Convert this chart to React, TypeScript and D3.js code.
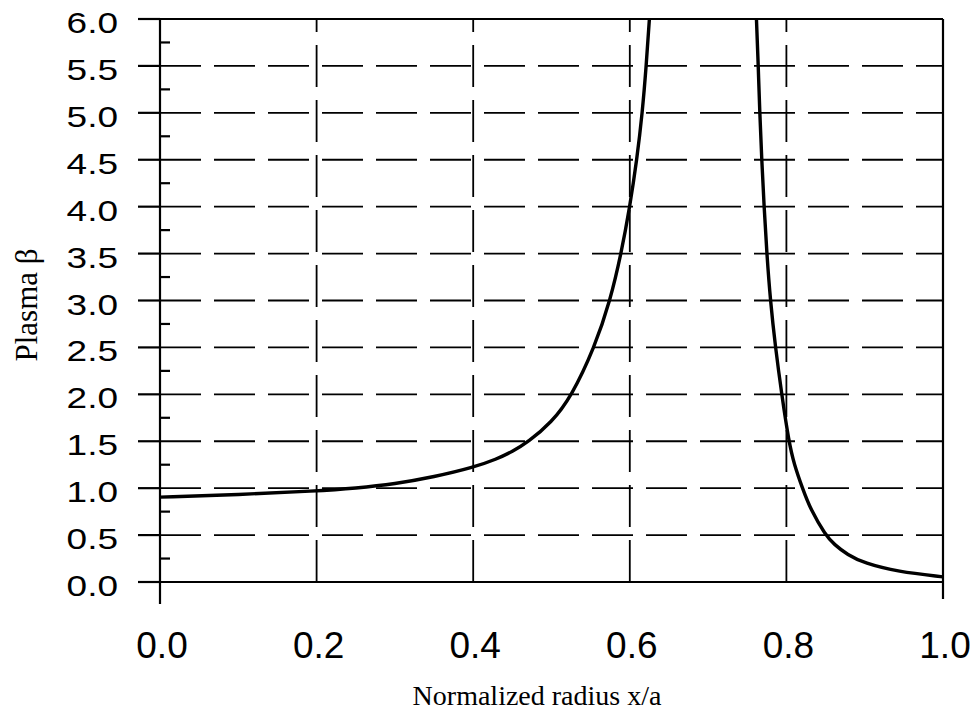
import React, { useEffect, useRef } from "react";
import * as d3 from "d3";

// tick values
const yMajor = [0, 0.5, 1, 1.5, 2, 2.5, 3, 3.5, 4, 4.5, 5, 5.5, 6];
const yMinor = [0.25, 0.75, 1.25, 1.75, 2.25, 2.75, 3.25, 3.75, 4.25, 4.75, 5.25, 5.75];
const xMajor = [0, 0.2, 0.4, 0.6, 0.8, 1];

// inner branch (rises off the top near x/a = 0.62)
const innerX = [0, 0.1, 0.2, 0.25, 0.3, 0.35, 0.4, 0.43, 0.45, 0.47, 0.5, 0.525, 0.555, 0.575, 0.589, 0.6, 0.609, 0.616, 0.621, 0.625, 0.63];
const innerBeta = [0.905, 0.93, 0.97, 1.0, 1.045, 1.12, 1.22, 1.31, 1.39, 1.49, 1.7, 1.97, 2.5, 3.0, 3.5, 4.0, 4.5, 5.0, 5.5, 6.0, 6.6];

// outer branch (comes back down near x/a = 0.76)
const outerX = [0.758, 0.762, 0.764, 0.766, 0.7685, 0.7715, 0.775, 0.7795, 0.786, 0.794, 0.803, 0.81, 0.8205, 0.831, 0.85, 0.861, 0.878, 0.8995, 0.942, 1.0];
const outerBeta = [6.6, 6.0, 5.5, 5.0, 4.5, 4.0, 3.5, 3.0, 2.5, 2.0, 1.5, 1.25, 1.0, 0.77, 0.5, 0.4, 0.29, 0.2, 0.11, 0.055];

const W = 979, H = 724;
const plot = { left: 160, right: 943, top: 19, bottom: 582 };

function BetaChart() {
    const ref = useRef<SVGGElement | null>(null);

    useEffect(() => {
        const g = d3.select(ref.current);
        g.selectAll("*").remove();

        const x = d3.scaleLinear().domain([0, 1]).range([plot.left, plot.right]);
        const y = d3.scaleLinear().domain([0, 6]).range([plot.bottom, plot.top]);

        // dashed grid
        g.append("g")
            .selectAll("line")
            .data(yMajor.filter(v => v > 0 && v < 6))
            .enter().append("line")
            .attr("x1", plot.left).attr("x2", plot.right)
            .attr("y1", d => y(d)).attr("y2", d => y(d))
            .attr("stroke", "#000").attr("stroke-width", 1.8)
            .attr("stroke-dasharray", "41 13");

        g.append("g")
            .selectAll("line")
            .data(xMajor.filter(v => v > 0 && v < 1))
            .enter().append("line")
            .attr("x1", d => x(d)).attr("x2", d => x(d))
            .attr("y1", plot.bottom).attr("y2", plot.top)
            .attr("stroke", "#000").attr("stroke-width", 1.8)
            .attr("stroke-dasharray", "42 13");

        // frame
        const frame = g.append("g").attr("stroke", "#000").attr("stroke-width", 2.2);
        frame.append("line").attr("x1", plot.left - 22).attr("x2", plot.right).attr("y1", y(6)).attr("y2", y(6));
        frame.append("line").attr("x1", plot.left - 22).attr("x2", plot.right).attr("y1", y(0)).attr("y2", y(0));
        frame.append("line").attr("x1", plot.left).attr("x2", plot.left).attr("y1", plot.top).attr("y2", plot.bottom + 22);
        frame.append("line").attr("x1", plot.right).attr("x2", plot.right).attr("y1", plot.top).attr("y2", plot.bottom + 17);

        // y ticks: majors outward, minors inward
        frame.selectAll("line.major")
            .data(yMajor)
            .enter().append("line")
            .attr("class", "major")
            .attr("x1", plot.left - 22).attr("x2", plot.left)
            .attr("y1", d => y(d)).attr("y2", d => y(d));
        frame.selectAll("line.minor")
            .data(yMinor)
            .enter().append("line")
            .attr("class", "minor")
            .attr("x1", plot.left).attr("x2", plot.left + 10)
            .attr("y1", d => y(d)).attr("y2", d => y(d));

        // y labels (squashed vertically like the original)
        g.append("g")
            .selectAll("text")
            .data(yMajor)
            .enter().append("text")
            .attr("transform", d => `translate(118, ${y(d) + 14}) scale(1, 0.78)`)
            .attr("text-anchor", "end")
            .style("font-family", "'Liberation Sans', Arial, sans-serif")
            .style("font-size", "37px")
            .attr("fill", "#000")
            .text(d => d3.format(".1f")(d));

        // x labels
        g.append("g")
            .selectAll("text")
            .data(xMajor)
            .enter().append("text")
            .attr("x", d => x(d) + 2)
            .attr("y", 658)
            .attr("text-anchor", "middle")
            .style("font-family", "'Liberation Sans', Arial, sans-serif")
            .style("font-size", "37px")
            .attr("fill", "#000")
            .text(d => d3.format(".1f")(d));

        // curve
        g.append("clipPath").attr("id", "plotClip")
            .append("rect")
            .attr("x", plot.left).attr("y", plot.top)
            .attr("width", plot.right - plot.left).attr("height", plot.bottom - plot.top);

        const line = d3.line().curve(d3.curveBasis);

        const branches = [
            innerX.map((v, i) => [x(v), y(innerBeta[i])] as [number, number]),
            outerX.map((v, i) => [x(v), y(outerBeta[i])] as [number, number])
        ];
        g.append("g")
            .attr("clip-path", "url(#plotClip)")
            .selectAll("path")
            .data(branches)
            .enter().append("path")
            .attr("d", d => line(d))
            .attr("fill", "none")
            .attr("stroke", "#000")
            .attr("stroke-width", 3.4);

        // axis titles
        g.append("text")
            .attr("transform", "translate(37, 305) rotate(-90)")
            .attr("text-anchor", "middle")
            .style("font-family", "'Liberation Serif', 'Times New Roman', serif")
            .style("font-size", "31px")
            .text("Plasma \u03B2");

        g.append("text")
            .attr("x", 537).attr("y", 705)
            .attr("text-anchor", "middle")
            .style("font-family", "'Liberation Serif', 'Times New Roman', serif")
            .style("font-size", "28px")
            .text("Normalized radius x/a");
    }, []);

    return (
        <svg width={W} height={H} style={{ position: "absolute", left: 0, top: 0, background: "#fff" }}>
            <g ref={ref}></g>
        </svg>
    );
}

export default function App() {
    return <BetaChart />;
}
